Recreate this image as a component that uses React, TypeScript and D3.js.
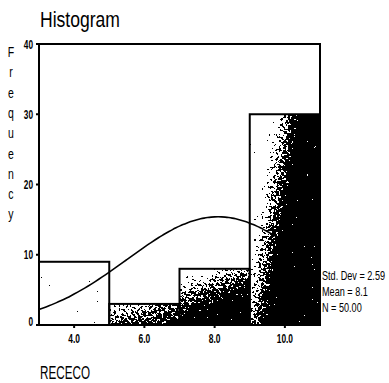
import { useEffect, useRef } from 'react'
import * as d3 from 'd3'

// Histogram bins (lower/upper edges) and counts
const BIN_EDGES = [3, 5, 7, 9, 11]
const COUNTS = [9, 3, 8, 30]
const X_TICKS = [4, 6, 8, 10]
const Y_TICKS = [0, 10, 20, 30, 40]
const STAT_LINES = ['Std. Dev = 2.59', 'Mean = 8.1', 'N = 50.00']
const MEAN = 8.1
const SD = 2.59
const N = 50
const Y_LABEL = 'Frequency'

// per-bar shading of the scanned fill: gradient vector (bbox units) + grey stops
const SHADES = [
  { x2: 1, y2: 1, stops: [[0, 1], [0.75, 0.97], [1, 0.85]] },
  { x2: 1, y2: 1, stops: [[0, 0.8], [0.5, 0.45], [1, 0.2]] },
  { x2: 0.5, y2: 1, stops: [[0.05, 1], [0.38, 0.55], [0.75, 0.1]] },
  { x2: 1, y2: 0.48, stops: [[0.22, 1], [0.42, 0.55], [0.62, 0.05]] },
]

const FONT = '"Liberation Sans", Arial, sans-serif'

const numWidth = (s: string) =>
  s.split('').reduce((w, c) => w + (c === '.' ? 2.5 : 4.6), 0)

export default function App() {
  const svgRef = useRef<SVGSVGElement>(null)

  useEffect(() => {
    if (!svgRef.current) return
    const width = 389
    const height = 383
    const margin = { top: 44, right: 69, bottom: 58, left: 39 }
    const innerW = width - margin.left - margin.right
    const innerH = height - margin.top - margin.bottom

    const x = d3.scaleLinear().domain([3, 11]).range([0, innerW])
    const y = d3.scaleLinear().domain([0, 40]).range([innerH, 0])

    d3.select(svgRef.current).selectAll('*').remove()
    const svg = d3.select(svgRef.current).attr('width', width).attr('height', height)

    // ---- defs: per-bar grey ramps + grain filter (scanned look) ----
    const defs = svg.append('defs')
    SHADES.forEach((s, i) => {
      const grad = defs
        .append('linearGradient')
        .attr('id', `ramp${i}`)
        .attr('x1', 0)
        .attr('y1', 0)
        .attr('x2', s.x2)
        .attr('y2', s.y2)
      s.stops.forEach(([o, l]) => {
        const v = Math.round(l * 255)
        grad.append('stop').attr('offset', o).attr('stop-color', `rgb(${v},${v},${v})`)
      })
    })

    const filt = defs
      .append('filter')
      .attr('id', 'grain')
      .attr('x', 0)
      .attr('y', 0)
      .attr('width', 1)
      .attr('height', 1)
      .attr('color-interpolation-filters', 'sRGB')
    filt
      .append('feTurbulence')
      .attr('type', 'fractalNoise')
      .attr('baseFrequency', 0.4)
      .attr('numOctaves', 2)
      .attr('seed', 7)
      .attr('result', 'noise')
    filt
      .append('feColorMatrix')
      .attr('in', 'noise')
      .attr('type', 'matrix')
      .attr('values', '1 0 0 0 0  1 0 0 0 0  1 0 0 0 0  0 0 0 0 1')
      .attr('result', 'grey')
    filt
      .append('feComposite')
      .attr('in', 'SourceGraphic')
      .attr('in2', 'grey')
      .attr('operator', 'arithmetic')
      .attr('k1', 0)
      .attr('k2', 1)
      .attr('k3', 1.5)
      .attr('k4', -0.75)
      .attr('result', 'mix')
    const ct = filt.append('feComponentTransfer').attr('in', 'mix').attr('result', 'bw')
    ct.append('feFuncR').attr('type', 'discrete').attr('tableValues', '0 1')
    ct.append('feFuncG').attr('type', 'discrete').attr('tableValues', '0 1')
    ct.append('feFuncB').attr('type', 'discrete').attr('tableValues', '0 1')
    ct.append('feFuncA').attr('type', 'linear').attr('slope', 0).attr('intercept', 1)
    filt
      .append('feComposite')
      .attr('in', 'bw')
      .attr('in2', 'SourceAlpha')
      .attr('operator', 'in')

    const g = svg.append('g').attr('transform', `translate(${margin.left},${margin.top})`)

    const bins = COUNTS.map((c, i) => ({ x0: BIN_EDGES[i], x1: BIN_EDGES[i + 1], count: c }))

    // ---- bar fills ----
    g.append('g')
      .attr('filter', 'url(#grain)')
      .selectAll('rect')
      .data(bins)
      .join('rect')
      .attr('x', (d) => x(d.x0))
      .attr('y', (d) => y(d.count))
      .attr('width', (d) => x(d.x1) - x(d.x0))
      .attr('height', (d) => y(0) - y(d.count))
      .attr('fill', (_, i) => `url(#ramp${i})`)

    // ---- bar outlines ----
    g.append('g')
      .selectAll('rect')
      .data(bins)
      .join('rect')
      .attr('x', (d) => x(d.x0))
      .attr('y', (d) => y(d.count))
      .attr('width', (d) => x(d.x1) - x(d.x0))
      .attr('height', (d) => y(0) - y(d.count))
      .attr('fill', 'none')
      .attr('stroke', '#000')
      .attr('stroke-width', 2)

    // ---- fitted normal curve ----
    const binW = BIN_EDGES[1] - BIN_EDGES[0]
    const pdf = (v: number) =>
      ((N * binW) / (SD * Math.sqrt(2 * Math.PI))) * Math.exp(-0.5 * ((v - MEAN) / SD) ** 2)
    const curveX = d3.range(3, 11.001, 0.1)
    g.append('path')
      .datum(curveX)
      .attr('fill', 'none')
      .attr('stroke', '#000')
      .attr('stroke-width', 1.6)
      .attr(
        'd',
        d3
          .line<number>()
          .x((d) => x(d))
          .y((d) => y(pdf(d)))
          .curve(d3.curveBasis),
      )

    // ---- frame ----
    g.append('rect')
      .attr('x', 0)
      .attr('y', 0)
      .attr('width', innerW)
      .attr('height', innerH)
      .attr('fill', 'none')
      .attr('stroke', '#000')
      .attr('stroke-width', 2)

    // ---- y axis ----
    const ya = g.append('g')
    ya.selectAll('line')
      .data(Y_TICKS)
      .join('line')
      .attr('x1', -3)
      .attr('x2', 0)
      .attr('y1', (d) => y(d))
      .attr('y2', (d) => y(d))
      .attr('stroke', '#000')
      .attr('stroke-width', 2)
    ya.selectAll('text')
      .data(Y_TICKS)
      .join('text')
      .attr('x', -6)
      .attr('y', (d) => y(d))
      .attr('dy', (d) => (d === 0 ? '0.1em' : '0.35em'))
      .attr('text-anchor', 'end')
      .attr('font-family', FONT)
      .attr('font-size', 13)
      .attr('font-weight', 'bold')
      .attr('textLength', (d) => numWidth(String(d)))
      .attr('lengthAdjust', 'spacingAndGlyphs')
      .text((d) => String(d))

    // ---- x axis ----
    const xa = g.append('g').attr('transform', `translate(0,${innerH})`)
    xa.selectAll('line')
      .data(X_TICKS)
      .join('line')
      .attr('x1', (d) => x(d))
      .attr('x2', (d) => x(d))
      .attr('y1', 0)
      .attr('y2', 3)
      .attr('stroke', '#000')
      .attr('stroke-width', 2)
    xa.selectAll('text')
      .data(X_TICKS)
      .join('text')
      .attr('x', (d) => x(d) - numWidth(d3.format('.1f')(d)) / 2)
      .attr('y', 18)
      .attr('font-family', FONT)
      .attr('font-size', 13)
      .attr('font-weight', 'bold')
      .attr('textLength', (d) => numWidth(d3.format('.1f')(d)))
      .attr('lengthAdjust', 'spacingAndGlyphs')
      .text((d) => d3.format('.1f')(d))

    // ---- stats text (condensed by a horizontal scale) ----
    svg
      .append('g')
      .selectAll('text')
      .data(STAT_LINES)
      .join('text')
      .attr('transform', (_, i) => `translate(${margin.left + innerW + 2},${280 + i * 16}) scale(0.76,1)`)
      .attr('font-family', FONT)
      .attr('font-size', 12)
      .text((d) => d)

    // ---- title ----
    svg
      .append('text')
      .attr('x', 40)
      .attr('y', 27)
      .attr('font-family', FONT)
      .attr('font-size', 22)
      .attr('textLength', 80)
      .attr('lengthAdjust', 'spacingAndGlyphs')
      .text('Histogram')

    // ---- stacked y label ----
    svg
      .append('g')
      .selectAll('text')
      .data(Y_LABEL.split(''))
      .join('text')
      .attr('transform', (_, i) => `translate(11,${57 + i * 20.3}) scale(0.75,1)`)
      .attr('text-anchor', 'middle')
      .attr('font-family', FONT)
      .attr('font-size', 14)
      .text((d) => d)

    // ---- x label ----
    svg
      .append('text')
      .attr('x', 40)
      .attr('y', 379)
      .attr('font-family', FONT)
      .attr('font-size', 18)
      .attr('textLength', 50)
      .attr('lengthAdjust', 'spacingAndGlyphs')
      .text('RECECO')
  }, [])

  return (
    <svg
      ref={svgRef}
      style={{ position: 'absolute', left: 0, top: 0, background: '#fff' }}
    />
  )
}
